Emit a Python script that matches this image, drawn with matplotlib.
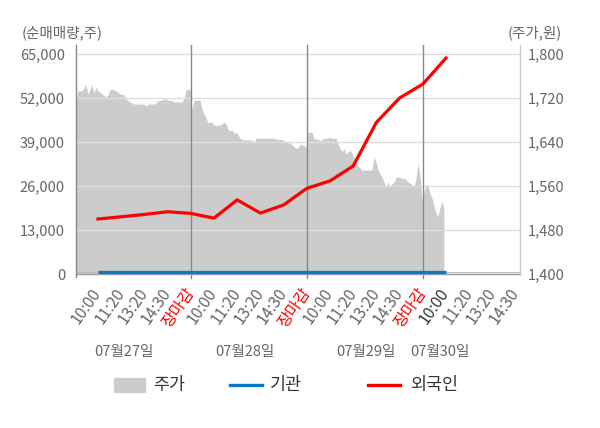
import numpy as np
import matplotlib
matplotlib.use('Agg')
import matplotlib.pyplot as plt
from matplotlib.lines import Line2D
from matplotlib.patches import Rectangle
from matplotlib.ticker import FuncFormatter

plt.rcParams['font.family'] = ['Noto Sans CJK KR', 'DejaVu Sans']

dates = ['07월27일', '07월28일', '07월29일', '07월30일']
tick_labels = ['10:00', '11:20', '13:20', '14:30', '장마감'] * 3 + ['10:00', '11:20', '13:20', '14:30']

# net volume (shares) at 10:00, 11:20, 13:20, 14:30, close ... up to 7/30 10:00
foreign = [16250, 16900, 17600, 18400, 17900, 16500, 21900, 18000, 20400,
           25300, 27500, 31900, 44800, 52000, 56100, 63800]
institution = [450, 450, 450, 450, 450, 450, 450, 450, 450,
               450, 450, 450, 450, 450, 450, 450]

# intraday price (won), one list per day
price_0727 = [1716, 1733, 1733, 1733, 1738, 1745, 1727, 1735, 1744, 1729,
              1740, 1733, 1731, 1727, 1725, 1722, 1725, 1735, 1736, 1735,
              1733, 1731, 1727, 1727, 1725, 1718, 1716, 1713, 1711, 1709,
              1709, 1709, 1709, 1709, 1709, 1705, 1709, 1709, 1709, 1709,
              1711, 1715, 1716, 1716, 1718, 1718, 1716, 1716, 1715, 1713,
              1713, 1713, 1713, 1713, 1720, 1735, 1736, 1736]
price_0728 = [1698, 1716, 1716, 1716, 1716, 1702, 1691, 1684, 1675, 1676,
              1676, 1671, 1669, 1671, 1671, 1673, 1676, 1673, 1664, 1660,
              1662, 1656, 1658, 1653, 1647, 1644, 1644, 1644, 1644, 1644,
              1644, 1638, 1647, 1647, 1647, 1647, 1647, 1647, 1647, 1647,
              1647, 1647, 1645, 1645, 1645, 1645, 1642, 1640, 1638, 1638,
              1635, 1631, 1629, 1629, 1636, 1635, 1633, 1631]
price_0729 = [1656, 1658, 1658, 1647, 1645, 1645, 1642, 1644, 1647, 1647,
              1647, 1649, 1647, 1647, 1647, 1636, 1629, 1622, 1629, 1618,
              1622, 1625, 1620, 1611, 1602, 1596, 1593, 1589, 1589, 1589,
              1589, 1589, 1589, 1613, 1604, 1589, 1582, 1576, 1567, 1558,
              1567, 1558, 1564, 1567, 1576, 1576, 1576, 1573, 1575, 1571,
              1567, 1565, 1562, 1558, 1575, 1602, 1578, 1535]
price_0730 = [1549, 1562, 1562, 1547, 1538, 1525, 1511, 1504, 1520, 1533, 1520]

fig = plt.figure(figsize=(6, 4.28), dpi=100)
ax = fig.add_axes([75.7 / 600, 1 - 274 / 428, 444.3 / 600, 222.3 / 428])
ax2 = ax.twinx()
ax.set_zorder(ax2.get_zorder() + 1)
ax.patch.set_visible(False)
ax2.patch.set_facecolor('#f4f4f4')

days = [price_0727, price_0728, price_0729]
xs = [np.linspace(5 * d + 0.05, 5 * d + 4.97, len(p)) for d, p in enumerate(days)]
xs.append(np.linspace(15.05, 15.91, len(price_0730)))
x_price = np.concatenate(xs)
price = np.concatenate(days + [price_0730])
ax2.fill_between(x_price, 1400, price, color='#cccccc', lw=0)
ax2.set_ylim(1400, 1804.2)
ax2.set_yticks(range(1400, 1801, 80))
ax2.yaxis.set_major_formatter(FuncFormatter(lambda v, p: f'{int(v):,}'))
ax2.tick_params(axis='y', length=0, pad=5.5, labelsize=10.5, labelcolor='#666666')

ax.set_xlim(0.04, 19.19)
ax.set_ylim(0, 65680)
ax.set_yticks(range(0, 65001, 13000))
ax.yaxis.set_major_formatter(FuncFormatter(lambda v, p: f'{int(v):,}'))
ax.tick_params(axis='y', length=0, pad=7.7, labelsize=10.5, labelcolor='#666666')
ax.grid(axis='y', color='#dddddd', lw=1)
ax.axhline(500, color='#bbbbbb', lw=0.8)

for a in (ax, ax2):
    for s in a.spines.values():
        s.set_visible(False)
ax.axhline(0, color='#999999', lw=1, clip_on=False)
ax.axvline(0.04, ymin=-0.015, ymax=1.03, color='#888888', lw=1, clip_on=False)
ax.axvline(19.19, ymin=0, ymax=1.03, color='#cccccc', lw=1, clip_on=False)
for b in (5, 10, 15):
    ax.axvline(b, ymin=-0.02, ymax=1.03, color='#888888', lw=1, clip_on=False)

pos = np.arange(1, len(foreign) + 1)
ax.plot(pos, institution, color='#0a7ac8', lw=2.4, solid_capstyle='butt')
ax.plot(pos, foreign, color='#ff0000', lw=2.3)

ax.set_xticks(range(1, len(tick_labels) + 1))
ax.set_xticklabels(tick_labels, rotation=55, ha='right', va='center', rotation_mode='anchor')
ax.tick_params(axis='x', length=0, pad=11.5, labelsize=11.5)
for i, t in enumerate(ax.get_xticklabels()):
    if tick_labels[i] == '장마감':
        t.set_color('#ff0000')
    elif i == 15:
        t.set_color('#333333')
    else:
        t.set_color('#666666')

fig.text(22 / 600, 1 - 33 / 428, '(순매매량,주)', ha='left', va='center', color='#666666', size=10.5)
fig.text(562 / 600, 1 - 33 / 428, '(주가,원)', ha='right', va='center', color='#666666', size=10.5)

for d, cx in zip(dates, [124, 245, 366, 440]):
    fig.text(cx / 600, 1 - 352 / 428, d, ha='center', va='center', color='#666666', size=10.5)

ly = 1 - 385 / 428
fig.add_artist(Rectangle((114 / 600, 1 - 392 / 428), 31 / 600, 14 / 428,
                         color='#cccccc', transform=fig.transFigure))
fig.text(153 / 600, ly, '주가', ha='left', va='center', color='#333333', size=12.5)
fig.add_artist(Line2D([230 / 600, 262 / 600], [ly, ly], color='#0a7ac8', lw=2.4,
                      transform=fig.transFigure))
fig.text(270 / 600, ly, '기관', ha='left', va='center', color='#333333', size=12.5)
fig.add_artist(Line2D([368 / 600, 400 / 600], [ly, ly], color='#ff0000', lw=2.4,
                      transform=fig.transFigure))
fig.text(410 / 600, ly, '외국인', ha='left', va='center', color='#333333', size=12.5)

fig.savefig('out.png', dpi=100)
